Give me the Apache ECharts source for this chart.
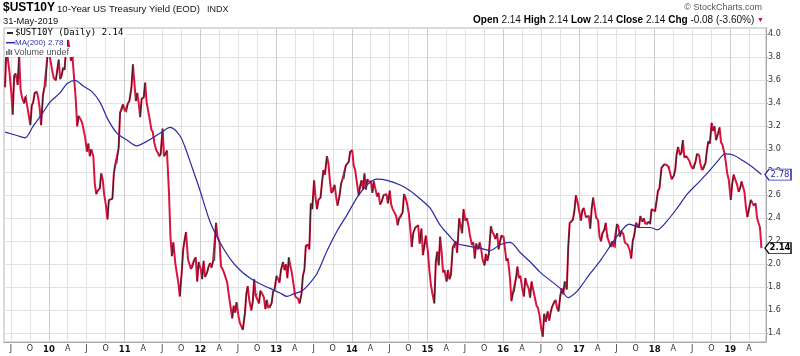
<!DOCTYPE html>
<html><head><meta charset="utf-8">
<script src="https://cdn.jsdelivr.net/npm/echarts@6/dist/echarts.min.js"></script>
<style>html,body{margin:0;padding:0;background:#fff}#c{width:800px;height:356px}</style>
</head><body><div id="c"></div>
<script>
// Weekly closes, 4 per month (about the 3rd, 10th, 17th, 24th)
const close2009 = [ // Jun - Dec
 3.54,3.90,3.78,3.68, 3.50,3.30,3.64,3.66, 3.56,3.82,3.52,3.45, 3.40,3.46,3.47,3.31,
 3.21,3.38,3.41,3.49, 3.50,3.45,3.36,3.21, 3.47,3.54,3.54,3.80];
const close2010 = [
 3.83,3.83,3.68,3.62, 3.60,3.69,3.78,3.61, 3.64,3.71,3.69,3.86, 3.95,3.88,3.77,3.81,
 3.60,3.44,3.20,3.29, 3.26,3.23,3.22,3.11, 2.98,3.05,2.94,3.00, 2.94,2.70,2.61,2.64,
 2.66,2.79,2.74,2.61, 2.51,2.39,2.56,2.56, 2.57,2.79,2.87,2.87, 3.01,3.32,3.33,3.39];
const close2011 = [
 3.33,3.32,3.40,3.42, 3.54,3.74,3.58,3.42, 3.49,3.40,3.28,3.44, 3.45,3.58,3.41,3.40,
 3.25,3.17,3.15,3.06, 2.99,2.97,2.94,2.96, 3.18,2.94,2.96,2.99, 2.62,2.24,2.07,2.19,
 2.00,1.92,1.84,1.72, 1.92,2.12,2.21,2.28, 2.04,2.04,1.96,1.97, 2.04,2.06,1.85,2.02];
const close2012 = [
 1.96,1.87,2.03,1.89, 1.93,1.98,2.01,1.97, 2.03,2.03,2.36,2.24, 2.19,1.98,1.96,1.93,
 1.88,1.84,1.74,1.74, 1.53,1.64,1.58,1.67, 1.55,1.49,1.46,1.43, 1.57,1.74,1.81,1.69,
 1.60,1.67,1.87,1.73, 1.74,1.66,1.77,1.75, 1.71,1.61,1.69,1.62, 1.62,1.66,1.76,1.78];
const close2013 = [
 1.90,1.87,1.84,1.95, 2.02,1.95,2.00,1.88, 2.06,1.99,1.93,1.85, 1.72,1.72,1.70,1.66,
 1.74,1.90,1.95,2.16, 2.17,2.13,2.53,2.48, 2.73,2.58,2.48,2.56, 2.58,2.71,2.82,2.78,
 2.94,2.88,2.73,2.62, 2.63,2.69,2.59,2.51, 2.60,2.70,2.74,2.74, 2.86,2.87,2.89,2.98];
const close2014 = [
 2.99,2.86,2.82,2.73, 2.60,2.68,2.73,2.65, 2.79,2.65,2.74,2.72, 2.72,2.62,2.72,2.66,
 2.59,2.62,2.52,2.54, 2.60,2.60,2.61,2.53, 2.64,2.52,2.48,2.47, 2.42,2.34,2.40,2.40,
 2.45,2.61,2.58,2.53, 2.44,2.31,2.15,2.27, 2.32,2.32,2.34,2.18, 2.31,2.08,2.16,2.25];
const close2015 = [
 2.11,1.95,1.83,1.75, 1.66,2.02,2.11,1.99, 2.24,2.11,1.93,1.95, 1.85,1.95,1.87,1.91,
 2.15,2.14,2.20,2.10, 2.40,2.39,2.27,2.48, 2.38,2.40,2.34,2.26, 2.17,2.19,2.05,2.18,
 2.13,2.19,2.13,2.04, 1.99,2.09,2.03,2.09, 2.33,2.28,2.26,2.22, 2.27,2.13,2.20,2.25];
const close2016 = [
 2.24,2.13,2.03,2.05, 1.88,1.68,1.75,1.76, 1.88,1.98,1.88,1.90, 1.78,1.72,1.88,1.83,
 1.79,1.71,1.85,1.85, 1.70,1.64,1.62,1.56, 1.44,1.37,1.57,1.50, 1.59,1.51,1.58,1.63,
 1.67,1.69,1.62,1.59, 1.73,1.79,1.74,1.85, 1.78,2.15,2.36,2.36, 2.39,2.47,2.60,2.55];
const close2017 = [
 2.45,2.38,2.47,2.49, 2.41,2.42,2.42,2.31, 2.48,2.58,2.50,2.41, 2.38,2.24,2.20,2.27,
 2.30,2.36,2.24,2.25, 2.15,2.20,2.15,2.14, 2.35,2.33,2.24,2.29, 2.26,2.19,2.19,2.17,
 2.12,2.05,2.20,2.25, 2.36,2.36,2.32,2.42, 2.37,2.40,2.35,2.34, 2.37,2.35,2.48,2.48];
const close2018 = [
 2.46,2.55,2.64,2.66, 2.84,2.85,2.87,2.87, 2.86,2.84,2.85,2.74, 2.77,2.82,2.96,3.02,
 2.95,2.97,3.08,2.93, 2.94,2.94,2.90,2.86, 2.83,2.83,2.89,2.96, 2.95,2.87,2.82,2.82,
 2.88,2.99,3.07,3.05, 3.23,3.16,3.20,3.08, 3.14,3.19,3.06,3.04, 2.97,2.89,2.79,2.74];
const close2019 = [ // Jan - May
 2.56,2.70,2.78,2.74, 2.69,2.63,2.66,2.72, 2.72,2.63,2.50,2.41, 2.50,2.56,2.56,2.51,
 2.53,2.40,2.39,2.32];
const lastDate = '2019-05-31';
const lastClose = 2.14;

// 200-day moving average
const maDates = ['2009-06-03','2009-07-30','2009-09-07','2009-10-16','2009-12-03','2010-01-06','2010-02-23','2010-03-29','2010-05-07','2010-06-15','2010-07-28','2010-09-04','2010-10-12','2010-11-25','2011-01-12','2011-03-01','2011-04-09','2011-05-17','2011-06-30','2011-08-08','2011-09-24','2011-10-23','2011-11-21','2011-12-31','2012-02-17','2012-04-05','2012-05-23','2012-07-10','2012-08-27','2012-10-14','2012-12-02','2013-01-20','2013-02-23','2013-03-24','2013-05-07','2013-06-05','2013-07-17','2013-09-04','2013-10-22','2013-12-09','2014-01-26','2014-03-15','2014-05-03','2014-06-20','2014-08-22','2014-10-09','2014-11-26','2015-01-13','2015-03-03','2015-04-20','2015-05-24','2015-07-11','2015-09-11','2015-10-30','2015-12-17','2016-02-04','2016-03-24','2016-05-11','2016-06-28','2016-08-15','2016-10-02','2016-11-10','2016-12-14','2017-01-07','2017-02-24','2017-04-13','2017-06-01','2017-07-19','2017-08-31','2017-10-23','2017-12-10','2018-01-13','2018-03-03','2018-04-20','2018-06-07','2018-07-25','2018-09-11','2018-10-29','2018-12-07','2019-01-15','2019-03-04','2019-04-22','2019-05-31'];
const maValues = [3.15,3.12,3.10,3.20,3.32,3.41,3.49,3.57,3.60,3.55,3.50,3.41,3.26,3.14,3.08,3.03,3.06,3.10,3.15,3.19,3.12,3.00,2.85,2.64,2.37,2.19,2.05,1.95,1.88,1.83,1.79,1.75,1.72,1.74,1.77,1.82,1.92,2.12,2.29,2.43,2.58,2.69,2.74,2.73,2.69,2.64,2.57,2.49,2.34,2.24,2.18,2.16,2.14,2.12,2.17,2.19,2.10,2.02,1.93,1.86,1.79,1.71,1.75,1.80,1.92,2.03,2.16,2.28,2.35,2.32,2.32,2.30,2.38,2.49,2.61,2.70,2.79,2.89,2.96,2.95,2.90,2.84,2.78];
const lastMA = 2.78;

const xTickLabels = ['J','O','10','A','J','O','11','A','J','O','12','A','J','O','13','A','J','O','14','A','J','O','15','A','J','O','16','A','J','O','17','A','J','O','18','A','J','O','19','A'];
const yTickValues = [1.4,1.6,1.8,2.0,2.2,2.4,2.6,2.8,3.0,3.2,3.4,3.6,3.8,4.0];

// ---- build ----
const ts = s => { const p = s.split('-'); return Date.UTC(+p[0], +p[1]-1, +p[2]); };
const years = [[2009,6,close2009],[2010,1,close2010],[2011,1,close2011],[2012,1,close2012],[2013,1,close2013],[2014,1,close2014],[2015,1,close2015],[2016,1,close2016],[2017,1,close2017],[2018,1,close2018],[2019,1,close2019]];
const weekDays = [3,10,17,24];
const price = [];
years.forEach(([yr,m0,arr]) => arr.forEach((v,i) => {
  price.push([Date.UTC(yr, m0-1+Math.floor(i/4), weekDays[i%4]), v]);
}));
price.push([ts(lastDate), lastClose]);
const ma = maDates.map((d,i) => [ts(d), maValues[i]]);
const upSegs = [];
for (let i = 1; i < price.length; i++) if (price[i][1] > price[i-1][1]) upSegs.push({coords:[price[i-1], price[i]]});

const xMin = Date.UTC(2009,4,29), xMax = Date.UTC(2019,5,22);
const xTickTs = xTickLabels.map((l,k) => Date.UTC(2009, 6+3*k, 1));
const labelOf = {}; xTickTs.forEach((t,k) => labelOf[t] = xTickLabels[k]);

const RED = '#d8143f', BLUE = '#2a2aa2';
const axisFont = 'DejaVu Sans';
const tagPath = 'path://M0,5 L4,0 L26,0 L26,10 L4,10 Z';

const chart = echarts.init(document.getElementById('c'));
chart.setOption({
  animation: false,
  backgroundColor: '#fff',
  grid: {left: 4, right: 34, top: 28, bottom: 14, show: true, borderColor: '#b4b4b4', borderWidth: 1, containLabel: false, outerBoundsMode: 'none'},
  xAxis: {
    type: 'value', min: xMin, max: xMax,
    axisLine: {show: true, lineStyle: {color: '#a8a8a8'}},
    axisTick: {show: false, customValues: xTickTs},
    axisLabel: {customValues: xTickTs, margin: 3, fontSize: 8, fontFamily: axisFont, color: '#333',
      formatter: v => { const l = labelOf[v] || ''; return /\d/.test(l) ? '{b|' + l + '}' : l; },
      rich: {b: {fontWeight: 'bold', fontSize: 8.5, fontFamily: axisFont, color: '#111'}}},
    splitLine: {show: true, lineStyle: {color: ['#e2e2e2','#e2e2e2','#cdcdcd','#e2e2e2'], width: 1}}
  },
  yAxis: {
    type: 'value', position: 'right', min: 1.324, max: 4.055,
    axisLine: {show: true, lineStyle: {color: '#a8a8a8'}},
    axisTick: {show: true, length: 2, customValues: yTickValues, lineStyle: {color: '#a8a8a8'}},
    axisLabel: {customValues: yTickValues, margin: 2, fontSize: 8, fontFamily: axisFont, color: '#333', formatter: v => v.toFixed(1)},
    splitLine: {show: true, lineStyle: {color: '#e2e2e2'}}
  },
  series: [
    {type: 'line', data: price, showSymbol: false, symbol: 'none', z: 3,
     lineStyle: {color: RED, width: 2}, itemStyle: {color: RED},
     markPoint: {symbol: tagPath, symbolSize: [26, 11], symbolOffset: [12, 0], symbolKeepAspect: false, z: 10,
       itemStyle: {color: '#fff', borderColor: '#111', borderWidth: 1},
       label: {show: true, position: 'inside', offset: [2, 0], fontSize: 8.5, fontWeight: 'bold', fontFamily: axisFont, color: '#000', formatter: lastClose.toFixed(2)},
       data: [{coord: [xMax, lastClose]}]}},
    {type: 'lines', coordinateSystem: 'cartesian2d', data: upSegs, z: 4, silent: true,
     lineStyle: {color: '#222', width: 0.9, opacity: 1}},
    {type: 'line', data: ma, showSymbol: false, symbol: 'none', smooth: 0.3, z: 5,
     lineStyle: {color: BLUE, width: 1.2}, itemStyle: {color: BLUE},
     markPoint: {symbol: tagPath, symbolSize: [26, 11], symbolOffset: [12, 0], symbolKeepAspect: false, z: 10,
       itemStyle: {color: '#fff', borderColor: BLUE, borderWidth: 1},
       label: {show: true, position: 'inside', offset: [2, 0], fontSize: 8.5, fontFamily: axisFont, color: BLUE, formatter: lastMA.toFixed(2)},
       data: [{coord: [xMax, lastMA]}]}}
  ],
  graphic: [
    {type: 'text', x: 3, y: 8, z: 20, style: {text: '$UST10Y', font: 'bold 12px "Liberation Sans"', fill: '#000', verticalAlign: 'middle'}},
    {type: 'text', x: 57, y: 9, z: 20, style: {text: '10-Year US Treasury Yield (EOD)', font: '9.6px "Liberation Sans"', fill: '#111', verticalAlign: 'middle'}},
    {type: 'text', x: 207, y: 9.7, z: 20, style: {text: 'INDX', font: '9px "Liberation Sans"', fill: '#222', verticalAlign: 'middle'}},
    {type: 'text', x: 3, y: 21, z: 20, style: {text: '31-May-2019', font: '9.4px "Liberation Sans"', fill: '#111', verticalAlign: 'middle'}},
    {type: 'text', x: 762, y: 8, z: 20, style: {text: '© StockCharts.com', font: '9px "Liberation Sans"', fill: '#555', align: 'right', verticalAlign: 'middle'}},
    {type: 'text', x: 764, y: 20, z: 20, style: {
      text: '{b|Open} 2.14 {b|High} 2.14 {b|Low} 2.14 {b|Close} 2.14 {b|Chg} -0.08 (-3.60%) {r|▼}',
      font: '10px "Liberation Sans"', fill: '#111', align: 'right', verticalAlign: 'middle',
      rich: {b: {fontWeight: 'bold', fontSize: 10, fontFamily: 'Liberation Sans', fill: '#000'}, r: {fontSize: 7, fill: '#c8102e'}}}},
    // legend backgrounds
    {type: 'rect', z: 15, shape: {x: 5, y: 29, width: 121, height: 9}, style: {fill: '#fff'}},
    {type: 'rect', z: 15, shape: {x: 5, y: 38, width: 62, height: 9}, style: {fill: '#fff'}},
    {type: 'rect', z: 15, shape: {x: 5, y: 47, width: 68, height: 10}, style: {fill: '#fff'}},
    {type: 'line', z: 20, shape: {x1: 7, y1: 33, x2: 13, y2: 33}, style: {stroke: '#000', lineWidth: 1.7}},
    {type: 'text', x: 15, y: 33, z: 20, style: {text: '$UST10Y (Daily) 2.14', font: '9px "DejaVu Sans Mono"', fill: '#000', verticalAlign: 'middle'}},
    {type: 'line', z: 20, shape: {x1: 6, y1: 42.7, x2: 15, y2: 42.7}, style: {stroke: BLUE, lineWidth: 1.5}},
    {type: 'text', x: 15, y: 42.7, z: 20, style: {text: 'MA(200) 2.78', font: '8px "Liberation Sans"', fill: '#3535a8', verticalAlign: 'middle'}},
    {type: 'rect', z: 20, shape: {x: 6, y: 51, width: 1.5, height: 4}, style: {fill: '#666'}},
    {type: 'rect', z: 20, shape: {x: 8.3, y: 49, width: 1.5, height: 6}, style: {fill: '#666'}},
    {type: 'rect', z: 20, shape: {x: 10.6, y: 50, width: 1.5, height: 5}, style: {fill: '#666'}},
    {type: 'text', x: 14, y: 52.3, z: 20, style: {text: 'Volume undef', font: '9px "Liberation Sans"', fill: '#555', verticalAlign: 'middle'}}
  ]
});
</script></body></html>
